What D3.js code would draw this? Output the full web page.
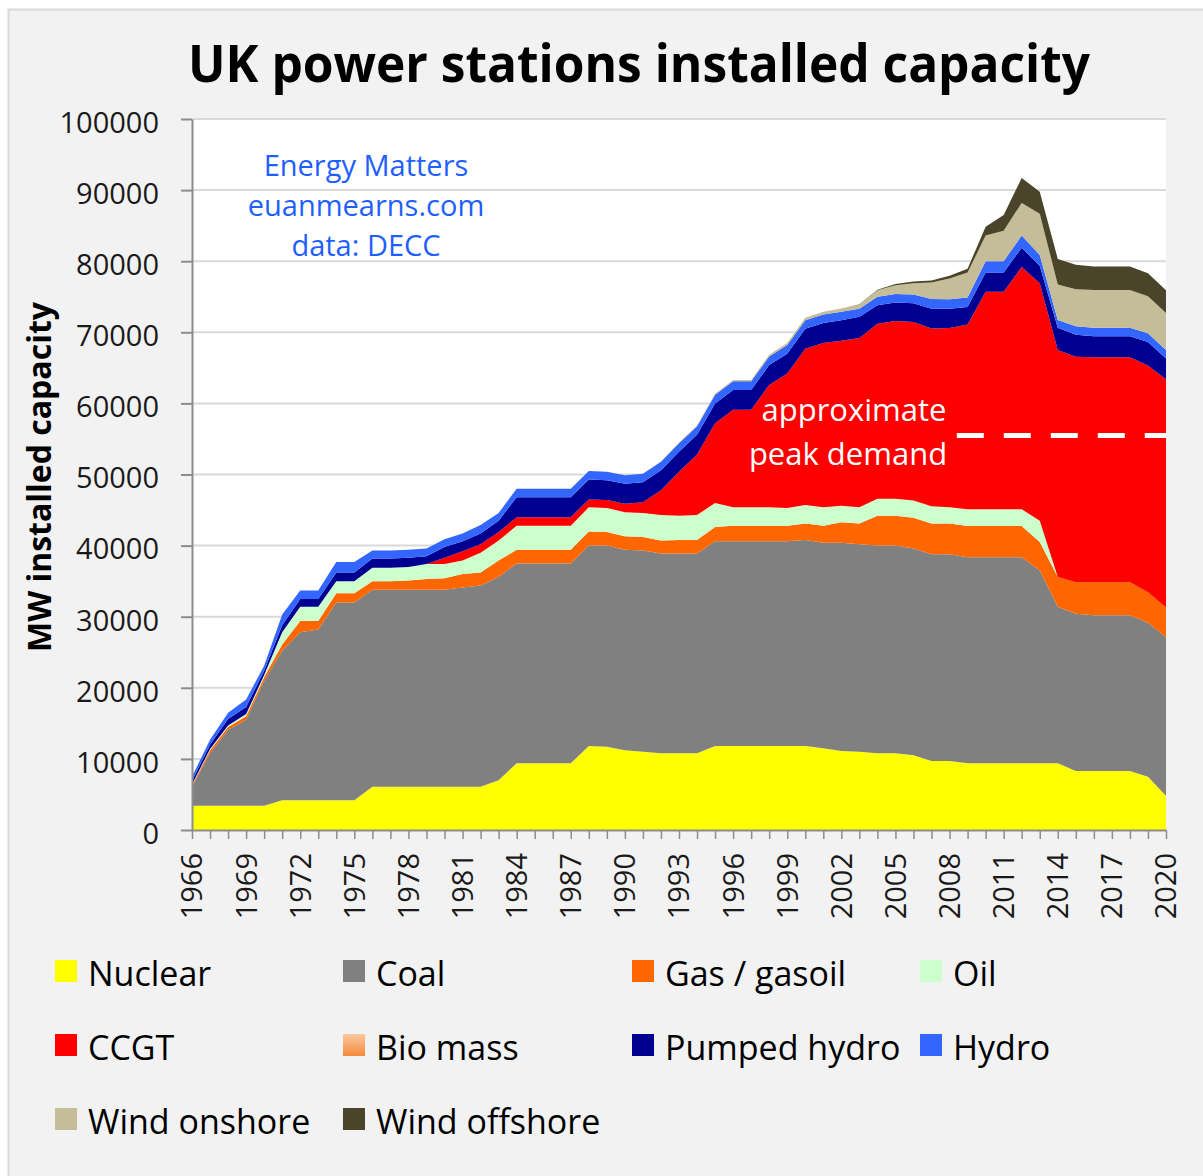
<!DOCTYPE html>
<html>
<head>
<meta charset="utf-8">
<script src="https://cdn.jsdelivr.net/npm/d3@7"></script>
<style>
  body { margin: 0; background: #fff; }
  text { font-family: "Open Sans", sans-serif; }
</style>
</head>
<body>
<script>
// Years on the category axis
const years = d3.range(1966, 2021);
const labelYears = years.filter(d => (d - 1966) % 3 === 0);
const yTicks = [0, 10000, 20000, 30000, 40000, 50000, 60000, 70000, 80000, 90000, 100000];

// MW installed capacity, one value per year 1966-2020
const nuclear = [
  3400, 3400, 3400, 3400, 3400, 4200, 4200, 4200, 4200, 4200,
  6100, 6100, 6100, 6100, 6100, 6100, 6100, 7000, 9400, 9400,
  9400, 9400, 11800, 11700, 11200, 11000, 10800, 10800, 10800, 11800,
  11800, 11800, 11800, 11800, 11800, 11500, 11100, 11000, 10800, 10800,
  10500, 9700, 9700, 9400, 9400, 9400, 9400, 9400, 9400, 8300,
  8300, 8300, 8300, 7500, 4800];
const coal = [
  2700, 7400, 10700, 12100, 17600, 21000, 23600, 24000, 27800, 27800,
  27700, 27700, 27700, 27700, 27700, 28000, 28300, 28600, 28100, 28100,
  28100, 28100, 28200, 28300, 28200, 28300, 28100, 28100, 28100, 28800,
  28800, 28800, 28800, 28800, 29000, 28900, 29300, 29200, 29200, 29200,
  29100, 29100, 29100, 28950, 28950, 28950, 28950, 27100, 22000, 22100,
  21900, 21900, 21900, 21650, 22300];
const gas = [
  200, 400, 400, 500, 500, 900, 1600, 1200, 1300, 1300,
  1200, 1200, 1300, 1500, 1600, 1900, 1800, 2300, 1900, 1900,
  1900, 1900, 2000, 1900, 1900, 1900, 1800, 1900, 1900, 2000,
  2200, 2200, 2200, 2200, 2300, 2400, 2900, 2900, 4200, 4200,
  4300, 4300, 4300, 4400, 4400, 4400, 4400, 4000, 4200, 4450,
  4650, 4650, 4650, 4300, 4200];
const oil = [
  100, 200, 200, 300, 300, 1700, 2000, 2000, 1700, 1700,
  1900, 1900, 1900, 2100, 2000, 1900, 2800, 2800, 3400, 3400,
  3400, 3400, 3400, 3400, 3400, 3400, 3600, 3400, 3500, 3400,
  2600, 2600, 2600, 2500, 2600, 2600, 2300, 2300, 2400, 2400,
  2450, 2450, 2300, 2350, 2350, 2350, 2350, 3000, 0, 0,
  0, 0, 0, 0, 0];
const ccgt = [
  0, 0, 0, 0, 0, 0, 0, 0, 0, 0,
  0, 0, 0, 0, 900, 1300, 1200, 1200, 1200, 1200,
  1200, 1200, 1100, 1100, 1200, 1500, 3500, 6200, 8500, 11200,
  13700, 13700, 17200, 18900, 22000, 23100, 23200, 23800, 24600, 25000,
  25100, 25000, 25200, 26000, 30600, 30600, 34100, 33400, 31900, 31700,
  31650, 31650, 31650, 31870, 32100];
const biomass = [
  0, 0, 0, 0, 0, 0, 0, 0, 0, 0,
  0, 0, 0, 0, 0, 0, 0, 0, 0, 0,
  0, 0, 0, 0, 0, 0, 0, 0, 0, 0,
  0, 0, 0, 0, 0, 0, 0, 0, 0, 0,
  0, 0, 0, 0, 0, 0, 0, 0, 0, 0,
  0, 0, 0, 0, 0];
const pumpedHydro = [
  500, 600, 900, 1000, 600, 1000, 1100, 1100, 1200, 1200,
  1300, 1300, 1300, 1100, 1500, 1400, 1500, 1600, 2800, 2800,
  2800, 2800, 2800, 2800, 2800, 2800, 2800, 2800, 2800, 2800,
  2800, 2800, 2800, 2800, 2800, 2800, 2900, 3000, 2600, 2600,
  2650, 2750, 2700, 2450, 2700, 2700, 2700, 2450, 3150, 3100,
  2950, 2950, 2950, 3300, 2900];
const hydro = [
  600, 700, 900, 1050, 700, 1500, 1200, 1200, 1500, 1500,
  1100, 1100, 1100, 1100, 1100, 1100, 1200, 1100, 1200, 1200,
  1200, 1200, 1200, 1200, 1200, 1200, 1200, 1200, 1200, 1200,
  1200, 1200, 1200, 1200, 1200, 1200, 1200, 1100, 1200, 1200,
  1200, 1400, 1350, 1350, 1600, 1600, 1700, 1530, 1070, 1200,
  1200, 1200, 1200, 1250, 1200];
const windOnshore = [
  0, 0, 0, 0, 0, 0, 0, 0, 0, 0,
  0, 0, 0, 0, 0, 0, 0, 0, 0, 0,
  0, 0, 0, 0, 0, 0, 50, 100, 100, 150,
  200, 200, 250, 300, 350, 400, 450, 600, 900, 1200,
  1600, 2300, 2900, 3500, 3600, 4300, 4600, 5800, 5000, 5200,
  5300, 5300, 5300, 5200, 5200];
const windOffshore = [
  0, 0, 0, 0, 0, 0, 0, 0, 0, 0,
  0, 0, 0, 0, 0, 0, 0, 0, 0, 0,
  0, 0, 0, 0, 0, 0, 0, 0, 0, 0,
  0, 0, 0, 0, 0, 0, 0, 50, 100, 200,
  250, 300, 400, 550, 1250, 2200, 3500, 3100, 3600, 3450,
  3300, 3300, 3300, 3250, 3200];

// approximate peak demand (MW) and where the dashed line starts
const peakDemand = 55500;
const peakFrom = 2008.4;

const series = [
  { key: "Nuclear", values: nuclear, color: "#ffff00" },
  { key: "Coal", values: coal, color: "#808080" },
  { key: "Gas / gasoil", values: gas, color: "#ff6600" },
  { key: "Oil", values: oil, color: "#ccffcc" },
  { key: "CCGT", values: ccgt, color: "#ff0000" },
  { key: "Bio mass", values: biomass, color: "url(#bioGrad)" },
  { key: "Pumped hydro", values: pumpedHydro, color: "#000090" },
  { key: "Hydro", values: hydro, color: "#3366ff" },
  { key: "Wind onshore", values: windOnshore, color: "#c4bd97" },
  { key: "Wind offshore", values: windOffshore, color: "#4a452a" }
];

// table for d3.stack
const table = years.map((yr, i) => {
  const row = { year: yr };
  series.forEach(s => row[s.key] = s.values[i]);
  return row;
});

const W = 1203, H = 1176;
const plot = { left: 192, right: 1166, top: 119, bottom: 830 };

const svg = d3.select("body").append("svg")
    .attr("width", W)
    .attr("height", H);

const defs = svg.append("defs");
const grad = defs.append("linearGradient")
    .attr("id", "bioGrad")
    .attr("x1", 0).attr("y1", 0).attr("x2", 0).attr("y2", 1);
grad.append("stop").attr("offset", "0%").attr("stop-color", "#fcc9a0");
grad.append("stop").attr("offset", "100%").attr("stop-color", "#f58a3c");

// chart panel
svg.append("rect")
    .attr("x", 8.5).attr("y", 9.5)
    .attr("width", 1200).attr("height", 1175)
    .attr("fill", "#f2f2f2")
    .attr("stroke", "#d9d9d9")
    .attr("stroke-width", 2);

svg.append("rect")
    .attr("x", plot.left).attr("y", plot.top)
    .attr("width", plot.right - plot.left)
    .attr("height", plot.bottom - plot.top)
    .attr("fill", "#ffffff");

const x = d3.scaleLinear().domain([1966, 2020]).range([plot.left, plot.right]);
const y = d3.scaleLinear().domain([0, 100000]).range([plot.bottom, plot.top]);

// gridlines
svg.append("g")
  .selectAll("line")
  .data(yTicks.slice(1))
  .join("line")
    .attr("x1", plot.left).attr("x2", plot.right)
    .attr("y1", d => y(d)).attr("y2", d => y(d))
    .attr("stroke", "#d9d9d9")
    .attr("stroke-width", 2);

// stacked areas
const stack = d3.stack().keys(series.map(s => s.key));
const layers = stack(table);

const area = d3.area()
    .x(d => x(d.data.year))
    .y0(d => y(d[0]))
    .y1(d => y(d[1]));

svg.append("g")
  .selectAll("path")
  .data(layers)
  .join("path")
    .attr("d", area)
    .attr("fill", (d, i) => series[i].color);

// peak demand line
svg.append("line")
    .attr("x1", x(peakFrom)).attr("x2", x(2020))
    .attr("y1", y(peakDemand)).attr("y2", y(peakDemand))
    .attr("stroke", "#ffffff")
    .attr("stroke-width", 5)
    .attr("stroke-dasharray", "27,20");

svg.append("text")
    .attr("x", 854).attr("y", 421)
    .attr("text-anchor", "middle")
    .attr("font-size", 31)
    .attr("fill", "#ffffff")
    .text("approximate");
svg.append("text")
    .attr("x", 848).attr("y", 465)
    .attr("text-anchor", "middle")
    .attr("font-size", 31)
    .attr("fill", "#ffffff")
    .text("peak demand");

// y axis
const yAxis = svg.append("g")
    .attr("transform", `translate(${plot.left},0)`)
    .call(d3.axisLeft(y).tickValues(yTicks).tickSize(11).tickSizeOuter(0)
      .tickPadding(22).tickFormat(d3.format("d")));
yAxis.select(".domain").attr("stroke", "#8c8c8c").attr("stroke-width", 2);
yAxis.selectAll(".tick line").attr("stroke", "#8c8c8c").attr("stroke-width", 2);
yAxis.selectAll(".tick text")
    .attr("font-size", 29)
    .attr("font-family", "Open Sans")
    .attr("dy", "0.46em")
    .attr("fill", "#1a1a1a");

// x axis: a tick for every year, a label every third year
const xAxis = svg.append("g")
    .attr("transform", `translate(0,${plot.bottom})`)
    .call(d3.axisBottom(x).tickValues(years).tickSize(9).tickSizeOuter(0).tickFormat(""));
xAxis.select(".domain").attr("stroke", "#8c8c8c").attr("stroke-width", 2);
xAxis.selectAll(".tick line").attr("stroke", "#8c8c8c").attr("stroke-width", 1.5);

svg.append("g")
  .selectAll("text")
  .data(labelYears)
  .join("text")
    .attr("transform", d => `translate(${x(d)},853) rotate(-90)`)
    .attr("text-anchor", "end")
    .attr("dy", "0.36em")
    .attr("font-size", 29)
    .attr("fill", "#1a1a1a")
    .text(d => d);

// titles
svg.append("text")
    .attr("x", 639).attr("y", 82)
    .attr("text-anchor", "middle")
    .attr("font-size", 52)
    .attr("font-weight", "bold")
    .attr("textLength", 902)
    .attr("lengthAdjust", "spacingAndGlyphs")
    .text("UK power stations installed capacity");

svg.append("text")
    .attr("transform", "translate(51,477) rotate(-90)")
    .attr("text-anchor", "middle")
    .attr("font-size", 32)
    .attr("font-weight", "bold")
    .text("MW installed capacity");

// source note
const note = ["Energy Matters", "euanmearns.com", "data: DECC"];
svg.append("g")
  .selectAll("text")
  .data(note)
  .join("text")
    .attr("x", 366)
    .attr("y", (d, i) => 176 + i * 40)
    .attr("text-anchor", "middle")
    .attr("font-size", 29)
    .attr("fill", "#1f5fff")
    .text(d => d);

// legend
const colX = [55, 343, 632, 920];
const rowY = [960, 1034, 1108];
const legend = svg.append("g")
  .selectAll("g")
  .data(series)
  .join("g")
    .attr("transform", (d, i) => `translate(${colX[i % 4]},${rowY[Math.floor(i / 4)]})`);

legend.append("rect")
    .attr("width", 22).attr("height", 22)
    .attr("fill", d => d.color);

legend.append("text")
    .attr("x", 33).attr("y", 26)
    .attr("font-size", 34)
    .attr("fill", "#000")
    .text(d => d.key);
</script>
</body>
</html>
